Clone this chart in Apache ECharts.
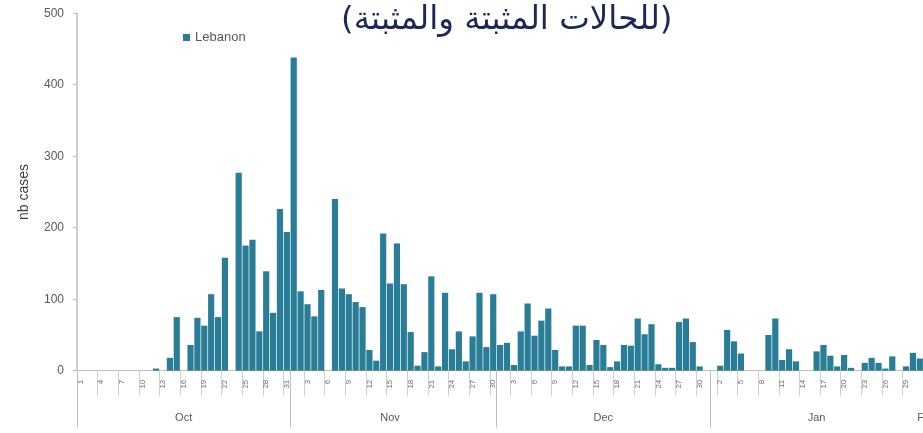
<!DOCTYPE html>
<html>
<head>
<meta charset="utf-8">
<script src="https://cdn.jsdelivr.net/npm/echarts@6/dist/echarts.min.js"></script>
<style>
html,body{margin:0;padding:0;background:#fff;overflow:hidden;}
#chart{width:923px;height:433px;}
</style>
</head>
<body>
<div id="chart"></div>
<script>
// ---- data ----
const titleText = '(للحالات المثبتة والمثبتة)';
const seriesName = 'Lebanon';
const yAxisName = 'nb cases';
const months = ['Oct', 'Nov', 'Dec', 'Jan', 'Feb'];
const octCases = [0,0,0,0,0,0,0,0,0,0,0,3,0,18,75,0,36,74,63,107,75,158,0,277,175,183,55,139,81,226,194];
const novCases = [438,111,93,76,113,0,240,115,107,96,89,29,14,192,122,178,121,54,7,26,132,6,109,30,55,13,48,109,33,107];
const decCases = [36,39,8,55,94,49,70,87,29,6,6,63,63,8,43,36,5,13,36,35,73,51,65,9,4,4,68,73,40,6,0];
const janCases = [0,7,57,41,24,0,0,0,50,73,15,30,13,0,0,27,36,21,6,22,4,0,11,18,11,3,20,0,6,25,17];
const febCases = [null,null];
const yTicks = [0,100,200,300,400,500];

// ---- build categories ----
const monthData = [octCases, novCases, decCases, janCases, febCases];
const cats = [], dayOf = [], monthOf = [], values = [];
const monthStart = {}, monthMid = {};
monthData.forEach((arr, m) => {
  const start = cats.length;
  monthStart[start] = m;
  monthMid[start + Math.floor((arr.length - 1) / 2)] = m;
  arr.forEach((v, i) => {
    cats.push(months[m] + '-' + (i + 1));
    dayOf.push(i + 1);
    monthOf.push(m);
    values.push(v);
  });
});

const chart = echarts.init(document.getElementById('chart'));
chart.setOption({
  animation: false,
  backgroundColor: '#ffffff',
  title: {
    text: titleText,
    left: 336,
    top: -1,
    textStyle: { fontFamily: 'DejaVu Sans', fontSize: 32.5, fontWeight: 'normal', color: '#1c2858' }
  },
  legend: {
    data: [seriesName],
    left: 178,
    top: 26,
    icon: 'rect',
    itemWidth: 7,
    itemHeight: 7,
    itemGap: 4,
    textStyle: { fontFamily: 'Liberation Sans', fontSize: 13, color: '#595959' }
  },
  grid: { left: 77, width: 860, top: 13.2, bottom: 62.3, containLabel: false, outerBoundsMode: 'none' },
  xAxis: [
    {
      type: 'category',
      data: cats,
      position: 'bottom',
      boundaryGap: true,
      axisLine: { show: true, lineStyle: { color: '#bfbfbf', width: 1 } },
      axisTick: { show: true, interval: (i) => i % 3 === 0, length: 25, lineStyle: { color: '#cfcfcf' } },
      axisLabel: {
        show: true,
        interval: (i) => i % 3 === 0,
        formatter: (v, i) => String(dayOf[i]),
        rotate: 90,
        margin: 9,
        fontSize: 8,
        fontFamily: 'Liberation Sans',
        color: '#6f6f6f'
      },
      splitLine: { show: false }
    },
    {
      type: 'category',
      data: cats,
      position: 'bottom',
      offset: 0,
      boundaryGap: true,
      axisLine: { show: false },
      axisTick: { show: true, interval: (i) => monthStart[i] !== undefined, length: 57, lineStyle: { color: '#bfbfbf' } },
      axisLabel: {
        show: true,
        interval: (i) => monthMid[i] !== undefined,
        formatter: (v, i) => months[monthOf[i]],
        margin: 42,
        fontSize: 11,
        fontFamily: 'Liberation Sans',
        color: '#595959'
      },
      splitLine: { show: false }
    }
  ],
  yAxis: {
    type: 'value',
    min: yTicks[0],
    max: yTicks[yTicks.length - 1],
    interval: yTicks[1] - yTicks[0],
    name: yAxisName,
    nameLocation: 'middle',
    nameRotate: 90,
    nameGap: 46,
    nameTextStyle: { fontFamily: 'Liberation Sans', fontSize: 14, color: '#404040' },
    axisLine: { show: true, lineStyle: { color: '#bfbfbf', width: 1.5 } },
    axisTick: { show: true, length: 4, lineStyle: { color: '#bfbfbf' } },
    axisLabel: { margin: 13, fontSize: 12, fontFamily: 'Liberation Sans', color: '#595959' },
    splitLine: { show: false }
  },
  series: [{
    name: seriesName,
    type: 'bar',
    xAxisIndex: 0,
    data: values,
    barCategoryGap: '10%',
    itemStyle: { color: '#2a7d96' }
  }]
});
</script>
</body>
</html>
